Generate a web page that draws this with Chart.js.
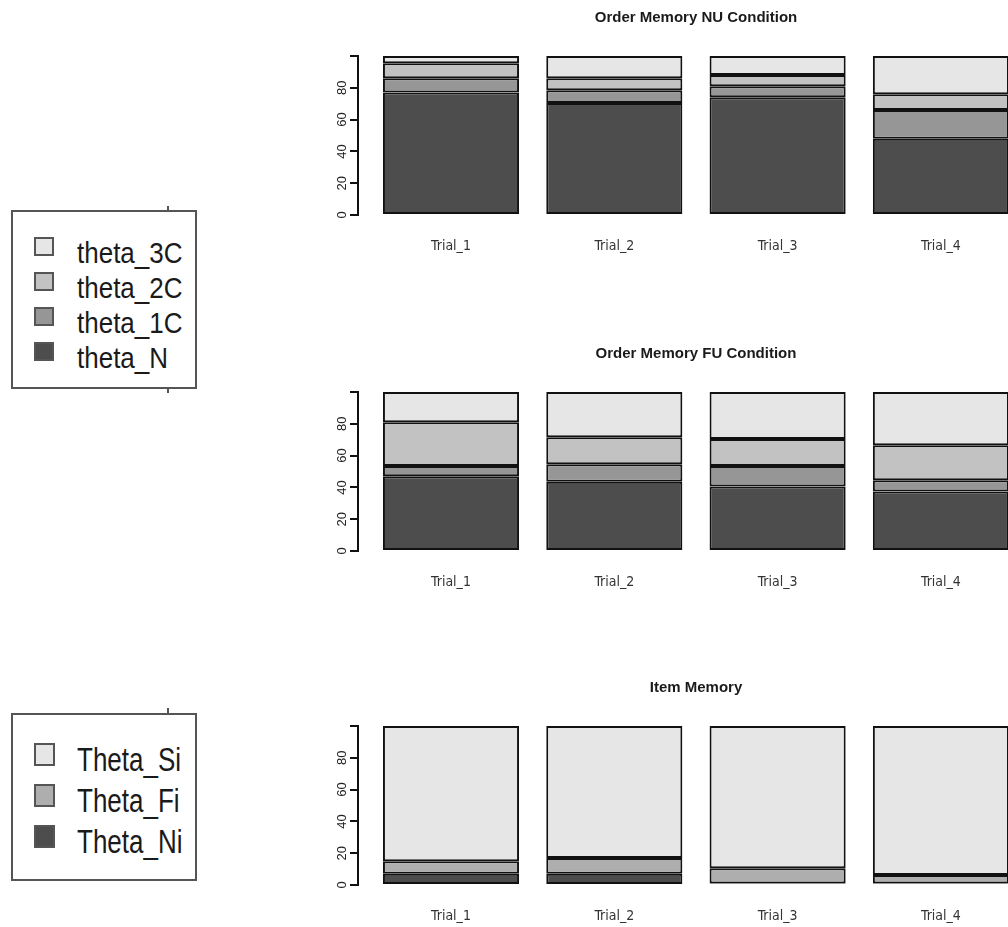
<!DOCTYPE html>
<html>
<head>
<meta charset="utf-8">
<title>Order / Item Memory</title>
<script src="https://cdn.jsdelivr.net/npm/chart.js@4.4.1/dist/chart.umd.min.js"></script>
<style>
  html, body { margin: 0; padding: 0; background: #fff; width: 1008px; height: 927px; overflow: hidden; }
  .panel { position: absolute; left: 0; }
  .legend-box { position: absolute; box-sizing: border-box; border: 2px solid #555; background: #fff; z-index: 2; }
  .mark { position: absolute; width: 2px; background: #555; z-index: 3; }
  .swatch { position: absolute; box-sizing: border-box; border: 2px solid #555; z-index: 3; }
  .label { position: absolute; font: 26px "Liberation Sans", Arial, sans-serif; line-height: 26px;
           color: #1a1a1a; white-space: nowrap; transform-origin: 0 22px; z-index: 3; }
</style>
</head>
<body>
<canvas id="chartNU" class="panel" style="top:0px"></canvas>
<canvas id="chartFU" class="panel" style="top:336px"></canvas>
<canvas id="chartItem" class="panel" style="top:670px"></canvas>

<div class="legend-box" style="left:11px; top:210px; width:186px; height:179px"></div>
<div class="mark" style="left:167px; top:206px; height:5px"></div>
<div class="mark" style="left:167px; top:388px; height:5px"></div>
<div class="legend-box" style="left:11px; top:713px; width:186px; height:168px"></div>
<div class="mark" style="left:167px; top:708px; height:6px"></div>

<script>
// 데이터
const trials = ["Trial_1", "Trial_2", "Trial_3", "Trial_4"];
const yTicks = [0, 20, 40, 60, 80, 100];
const yTickLabels = [0, 20, 40, 60, 80];

const orderSeries = ["theta_N", "theta_1C", "theta_2C", "theta_3C"];
const orderColors = ["#4D4D4D", "#969696", "#C2C2C2", "#E6E6E6"];

// Order Memory NU Condition
const nuThetaN  = [77, 70.5, 74, 48];
const nuTheta1C = [9, 8, 7, 18];
const nuTheta2C = [9.5, 7.5, 7, 10];
const nuTheta3C = [4.5, 14, 12, 24];

// Order Memory FU Condition
const fuThetaN  = [47, 43.5, 40.5, 37.5];
const fuTheta1C = [6.5, 11, 13, 7];
const fuTheta2C = [27.5, 17, 17, 22];
const fuTheta3C = [19, 28.5, 29.5, 33.5];

// Item Memory
const itemSeries = ["Theta_Ni", "Theta_Fi", "Theta_Si"];
const itemColors = ["#4D4D4D", "#AEAEAE", "#E6E6E6"];
const itemThetaNi = [7, 7, 1, 1];
const itemThetaFi = [8, 10, 9.5, 5.3];
const itemThetaSi = [85, 83, 89.5, 93.7];

const narrowFont = "'Liberation Sans Narrow', 'DejaVu Sans Condensed', 'Liberation Sans', sans-serif";

// y축 눈금 라벨 (R 스타일로 90도 회전)
const yLabelPlugin = {
    id: "rotatedYLabels",
    afterDraw(chart) {
        const ctx = chart.ctx;
        const y = chart.scales.y;
        ctx.save();
        ctx.font = "13px 'Liberation Sans', Arial, sans-serif";
        ctx.fillStyle = "#222";
        ctx.textAlign = "center";
        ctx.textBaseline = "middle";
        yTickLabels.forEach(v => {
            ctx.save();
            ctx.translate(chart.chartArea.left - 16, y.getPixelForValue(v));
            ctx.rotate(-Math.PI / 2);
            ctx.fillText(String(v), 0, 0);
            ctx.restore();
        });
        ctx.restore();
    }
};

function makeChart(canvasId, title, series, colors, values) {
    const canvas = document.getElementById(canvasId);
    canvas.width = 1040;
    canvas.height = 260;
    return new Chart(canvas.getContext("2d"), {
        type: "bar",
        data: {
            datasets: series.map((name, i) => ({
                label: name,
                data: values[i].map((v, j) => ({ x: j + 1, y: v })),
                backgroundColor: colors[i],
                borderColor: "#111",
                borderWidth: 2,
                borderSkipped: false,
                barPercentage: 1 / 1.2,   // R barplot space = 0.2
                categoryPercentage: 1,
                clip: false
            }))
        },
        options: {
            responsive: false,
            animation: false,
            layout: { padding: { left: 338, right: 6, top: 0, bottom: 0 } },
            scales: {
                x: {
                    type: "linear",
                    stacked: true,
                    offset: false,
                    min: 0.4305,
                    max: 4.57,
                    afterBuildTicks: s => { s.ticks = trials.map((t, i) => ({ value: i + 1 })); },
                    afterFit: s => { s.height = 45; },
                    ticks: {
                        callback: v => trials[v - 1],
                        autoSkip: false,
                        maxRotation: 0,
                        padding: 23,
                        color: "#333",
                        font: { family: narrowFont, size: 14 }
                    },
                    grid: { display: false, drawTicks: false },
                    border: { display: false }
                },
                y: {
                    stacked: true,
                    min: 0,
                    max: 100,
                    afterBuildTicks: s => { s.ticks = yTicks.map(v => ({ value: v })); },
                    afterFit: s => { s.width = 20; },
                    ticks: { display: false },
                    grid: { drawOnChartArea: false, drawTicks: true, tickLength: 8, color: "#111", lineWidth: 2 },
                    border: { display: true, color: "#111", width: 2 }
                }
            },
            plugins: {
                legend: { display: false },
                tooltip: { enabled: false },
                title: {
                    display: true,
                    text: title,
                    fullSize: false,
                    color: "#1a1a1a",
                    font: { family: "'Liberation Sans', Arial, sans-serif", size: 15, weight: "bold" },
                    padding: { top: 9, bottom: 29 }
                }
            }
        },
        plugins: [yLabelPlugin]
    });
}

makeChart("chartNU", "Order Memory NU Condition", orderSeries, orderColors,
          [nuThetaN, nuTheta1C, nuTheta2C, nuTheta3C]);
makeChart("chartFU", "Order Memory FU Condition", orderSeries, orderColors,
          [fuThetaN, fuTheta1C, fuTheta2C, fuTheta3C]);
makeChart("chartItem", "Item Memory", itemSeries, itemColors,
          [itemThetaNi, itemThetaFi, itemThetaSi]);

// HTML 범례 (위에서 아래로: 마지막 시리즈부터)
function buildLegend(names, colors, o) {
    names.slice().reverse().forEach((name, i) => {
        const color = colors[colors.length - 1 - i];
        const cy = o.firstRow + i * o.rowGap;

        const sw = document.createElement("span");
        sw.className = "swatch";
        sw.style.left = o.swatchLeft + "px";
        sw.style.top = (cy - o.swatchH / 2) + "px";
        sw.style.width = o.swatchW + "px";
        sw.style.height = o.swatchH + "px";
        sw.style.backgroundColor = color;
        document.body.appendChild(sw);

        const tx = document.createElement("span");
        tx.className = "label";
        tx.textContent = name;
        tx.style.left = o.textLeft + "px";
        tx.style.top = (cy + o.baseline - 22) + "px";
        tx.style.transform = "scaleY(" + o.stretch + ")";
        document.body.appendChild(tx);
    });
}

buildLegend(orderSeries, orderColors,
    { firstRow: 246, rowGap: 35, swatchLeft: 34, swatchW: 20, swatchH: 19, textLeft: 77, baseline: 17, stretch: 1.16 });
buildLegend(itemSeries, itemColors,
    { firstRow: 754, rowGap: 41, swatchLeft: 34, swatchW: 21, swatchH: 23, textLeft: 77, baseline: 17, stretch: 1.3 });
</script>
</body>
</html>
